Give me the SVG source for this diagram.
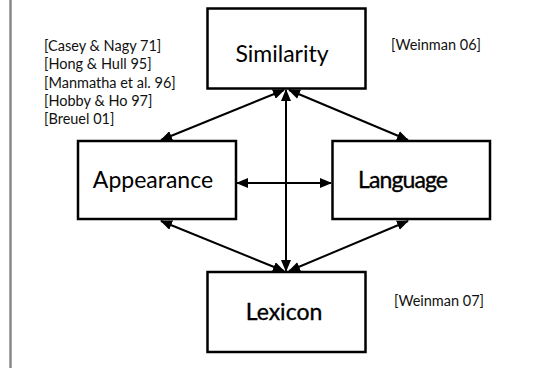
<svg xmlns="http://www.w3.org/2000/svg" width="559" height="368" viewBox="0 0 559 368">
<defs>
<style>
.box{fill:#fff;stroke:#000;stroke-width:2.5}
.lbl{font-family:Lato,"Liberation Sans",sans-serif;font-size:23px;fill:#000;text-anchor:middle}
.bold{stroke:#000;stroke-width:0.35}
.ref{font-family:Lato,"Liberation Sans",sans-serif;font-size:14.5px;fill:#111}
.conn{stroke:#000;stroke-width:2;fill:none;marker-start:url(#ah);marker-end:url(#ah)}
</style>
<marker id="ah" viewBox="0 0 12 10" refX="11" refY="5" markerWidth="12" markerHeight="10" markerUnits="userSpaceOnUse" orient="auto-start-reverse">
<path d="M0,0 L12,5 L0,10 z" fill="#000"/>
</marker>
</defs>
<rect width="559" height="368" fill="#fff"/>
<line x1="10.5" y1="0" x2="10.5" y2="368" stroke="#888" stroke-width="2.5"/>
<g id="connectors">
<line class="conn" x1="284" y1="90" x2="161" y2="140"/>
<line class="conn" x1="289" y1="90" x2="408" y2="140"/>
<line class="conn" x1="286" y1="90" x2="286" y2="271"/>
<line class="conn" x1="237" y1="183" x2="331" y2="183"/>
<line class="conn" x1="161" y1="221" x2="284" y2="271"/>
<line class="conn" x1="408" y1="221" x2="289" y2="271"/>
</g>
<g id="similarity">
<rect class="box" x="207.5" y="8.5" width="158" height="80"/>
<text class="lbl" x="282" y="62">Similarity</text>
</g>
<g id="appearance">
<rect class="box" x="78" y="141" width="158" height="78"/>
<text class="lbl" x="153" y="188">Appearance</text>
</g>
<g id="language">
<rect class="box" x="332.5" y="141" width="157.5" height="78"/>
<text class="lbl bold" x="403" y="188" textLength="90">Language</text>
</g>
<g id="lexicon">
<rect class="box" x="207.5" y="272" width="158" height="80"/>
<text class="lbl bold" x="284" y="320">Lexicon</text>
</g>
<g id="refs">
<text class="ref" x="44" y="51">[Casey &amp; Nagy 71]</text>
<text class="ref" x="44" y="69">[Hong &amp; Hull 95]</text>
<text class="ref" x="44" y="88">[Manmatha et al. 96]</text>
<text class="ref" x="44" y="106">[Hobby &amp; Ho 97]</text>
<text class="ref" x="44" y="124">[Breuel 01]</text>
<text class="ref" x="391" y="50">[Weinman 06]</text>
<text class="ref" x="394" y="306">[Weinman 07]</text>
</g>
</svg>
